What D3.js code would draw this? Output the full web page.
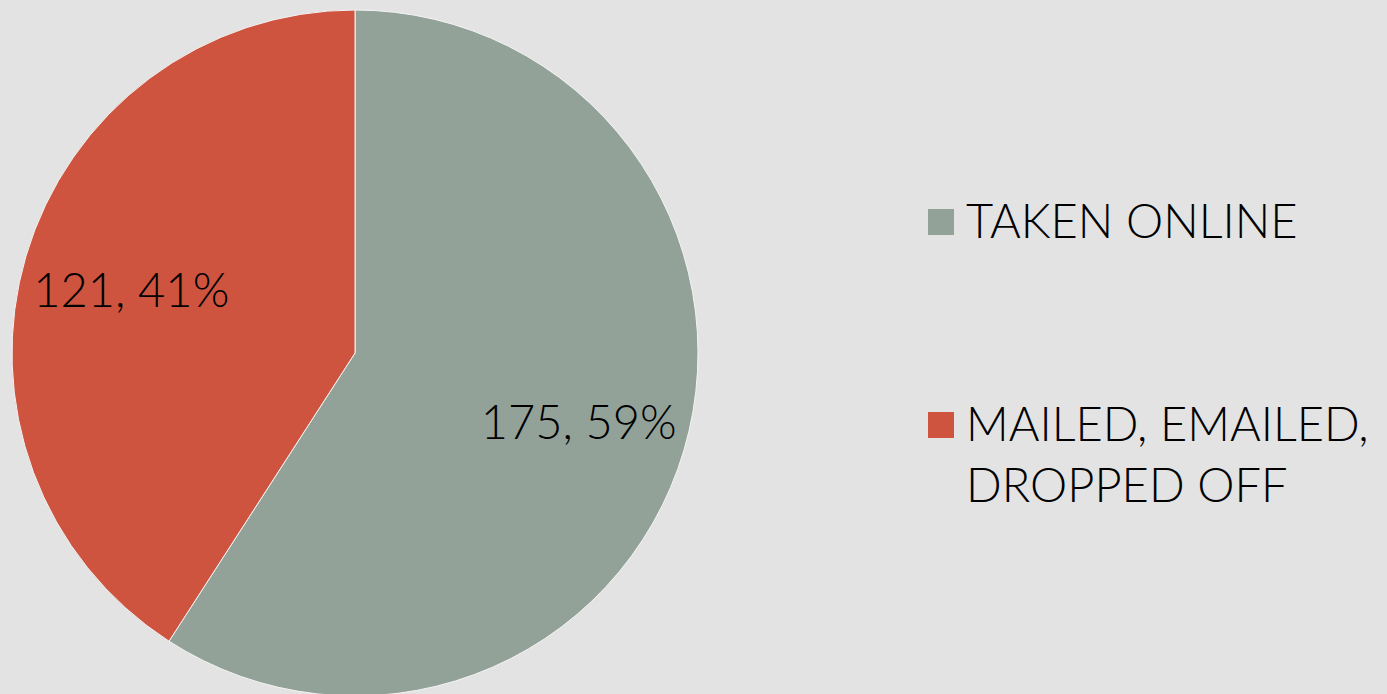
<!DOCTYPE html>
<html>
<head>
<meta charset="utf-8">
<script src="https://cdn.jsdelivr.net/npm/d3@7"></script>
<style>
  html, body { margin: 0; padding: 0; background: #e3e3e3; }
  svg { display: block; }
  text { font-family: Lato, "Noto Sans", sans-serif; font-weight: 300; fill: #000; }
</style>
</head>
<body>
<script>
// chart data
var categories = ["TAKEN ONLINE", "MAILED, EMAILED, DROPPED OFF"];
var values = [175, 121];
var percents = ["59%", "41%"];
var legendLines = [["TAKEN ONLINE"], ["MAILED, EMAILED,", "DROPPED OFF"]];
var colors = ["#93a299", "#cf543f"];

var width = 1387, height = 694;

var svg = d3.select("body").append("svg")
  .attr("width", width)
  .attr("height", height);

svg.append("rect")
  .attr("width", width)
  .attr("height", height)
  .style("fill", "#e3e3e3");

var data = categories.map(function (c, i) {
  return {name: c, value: values[i], pct: percents[i], lines: legendLines[i]};
});

var color = d3.scaleOrdinal().domain(categories).range(colors);

/* pie */
var radius = 343;
var g = svg.append("g")
  .attr("transform", "translate(355,353)");

var pie = d3.pie()
  .sort(null)
  .value(function (d) { return d.value; });

var arc = d3.arc().innerRadius(0).outerRadius(radius);
var labelArc = d3.arc().innerRadius(radius * 0.68).outerRadius(radius * 0.68);

var slices = g.selectAll(".arc")
  .data(pie(data))
  .enter().append("g")
  .attr("class", "arc");

slices.append("path")
  .attr("d", arc)
  .style("fill", function (d) { return color(d.data.name); })
  .style("stroke", "#f4f4f4")
  .style("stroke-width", 1);

// data labels
slices.append("text")
  .attr("x", function (d) { return labelArc.centroid(d)[0]; })
  .attr("y", function (d) { return labelArc.centroid(d)[1]; })
  .attr("dy", "0.42em")
  .style("text-anchor", "middle")
  .style("font-size", "47px")
  .text(function (d) { return d.data.value + ", " + d.data.pct; });

/* legend */
var legendY = d3.scalePoint().domain(categories).range([238, 441]);

var legend = svg.selectAll(".legend")
  .data(data)
  .enter().append("g")
  .attr("class", "legend")
  .attr("transform", function (d) { return "translate(928," + legendY(d.name) + ")"; });

legend.append("rect")
  .attr("x", 0)
  .attr("y", -29)
  .attr("width", 26)
  .attr("height", 26)
  .style("fill", function (d) { return color(d.name); });

legend.append("text")
  .attr("x", 38)
  .style("font-size", "47px")
  .selectAll("tspan")
  .data(function (d) { return d.lines; })
  .enter().append("tspan")
  .attr("x", 38)
  .attr("dy", function (d, i) { return i === 0 ? 0 : 61; })
  .text(function (d) { return d; });
</script>
</body>
</html>
